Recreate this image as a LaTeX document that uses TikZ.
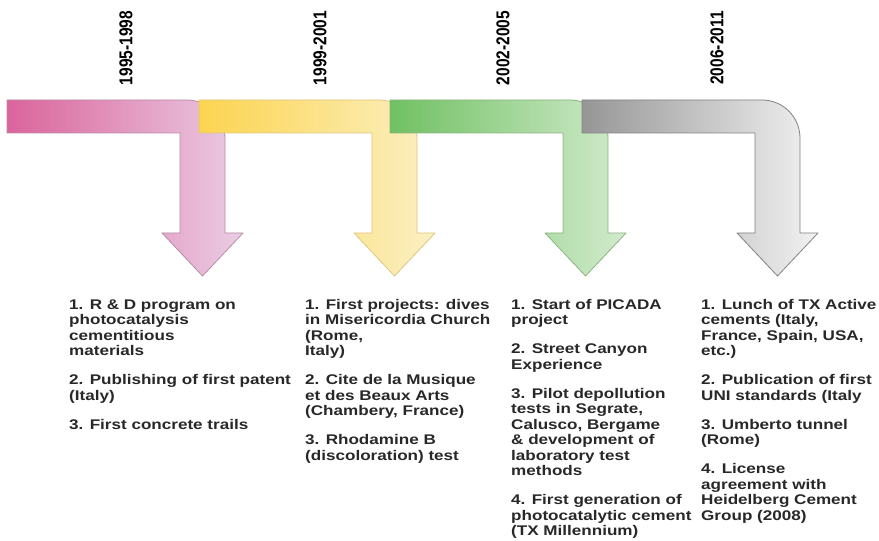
\documentclass[tikz,border=0pt]{standalone}
\usepackage{fontspec}
\newfontfamily\arialfont[FakeStretch=1.22]{Liberation Sans}
\newfontfamily\arialplain{Liberation Sans}

\definecolor{pinkL}{RGB}{218,100,155}
\definecolor{pinkR}{RGB}{234,205,228}
\definecolor{pinkD}{RGB}{185,140,165}
\definecolor{yellowL}{RGB}{252,212,80}
\definecolor{yellowR}{RGB}{251,240,195}
\definecolor{yellowD}{RGB}{220,200,130}
\definecolor{greenL}{RGB}{112,192,98}
\definecolor{greenR}{RGB}{210,235,205}
\definecolor{greenD}{RGB}{140,180,130}
\definecolor{grayL}{RGB}{150,150,150}
\definecolor{grayR}{RGB}{242,242,242}
\definecolor{grayD}{RGB}{130,130,130}
\definecolor{txt}{RGB}{40,40,40}

% bent arrow: bar from #1 to the right, then down into an arrow head
\newcommand{\bentarrow}[2]{%
  \draw[#2] (#1,441) -- ({#1+180},441) arc[start angle=90,end angle=0,radius=38]
    -- ({#1+218},308) -- ({#1+236},308) -- ({#1+195.5},265) -- ({#1+155},308)
    -- ({#1+173},308) -- ({#1+173},408) -- (#1,408) -- cycle;}

\begin{document}
\begin{tikzpicture}[x=1pt,y=1pt]
  \tikzset{period/.style={rotate=90, inner sep=0pt, text=black,
             font=\arialplain\bfseries\fontsize{15.5}{16}\selectfont},
           item/.style={anchor=north west, align=left, inner sep=0pt, text=txt,
             font=\arialfont\bfseries\fontsize{14}{15.5}\selectfont},
           arrowline/.style={line width=0.8pt, line join=round}}
  \fill[white] (0,0) rectangle (879,541);
  \useasboundingbox (0,0) rectangle (879,541);

  \bentarrow{7}{arrowline, draw=pinkD, left color=pinkL, right color=pinkR}
  \bentarrow{199}{arrowline, draw=yellowD, left color=yellowL, right color=yellowR}
  \bentarrow{390}{arrowline, draw=greenD, left color=greenL, right color=greenR}
  \bentarrow{582}{arrowline, draw=grayD, left color=grayL, right color=grayR}

  % periods
  \node[period] (y1) at (126,493) {\scalebox{1}[1.2]{1995-1998}};
  \node[period] (y2) at (320,493) {\scalebox{1}[1.2]{1999-2001}};
  \node[period] (y3) at (503,493) {\scalebox{1}[1.2]{2002-2005}};
  \node[period] (y4) at (717,493) {\scalebox{1}[1.2]{2006-2011}};

  % milestones
  \node[item] (m1) at (69,243) {\strut 1. R \& D program on\\photocatalysis\\cementitious\\materials\\[13.5pt]
    2. Publishing of first patent\\(Italy)\\[13.5pt]
    3. First concrete trails};
  \node[item] (m2) at (305,243) {\strut 1. First projects: dives\\in Misericordia Church\\(Rome,\\Italy)\\[13.5pt]
    2. Cite de la Musique\\et des Beaux Arts\\(Chambery, France)\\[13.5pt]
    3. Rhodamine B\\(discoloration) test};
  \node[item] (m3) at (511,243) {\strut 1. Start of PICADA\\project\\[13.5pt]
    2. Street Canyon\\Experience\\[13.5pt]
    3. Pilot depollution\\tests in Segrate,\\Calusco, Bergame\\\& development of\\laboratory test\\methods\\[13.5pt]
    4. First generation of\\photocatalytic cement\\(TX Millennium)};
  \node[item] (m4) at (701,243) {\strut 1. Lunch of TX Active\\cements (Italy,\\France, Spain, USA,\\etc.)\\[13.5pt]
    2. Publication of first\\UNI standards (Italy\\[13.5pt]
    3. Umberto tunnel\\(Rome)\\[13.5pt]
    4. License\\agreement with\\Heidelberg Cement\\Group (2008)};
\end{tikzpicture}
\end{document}
